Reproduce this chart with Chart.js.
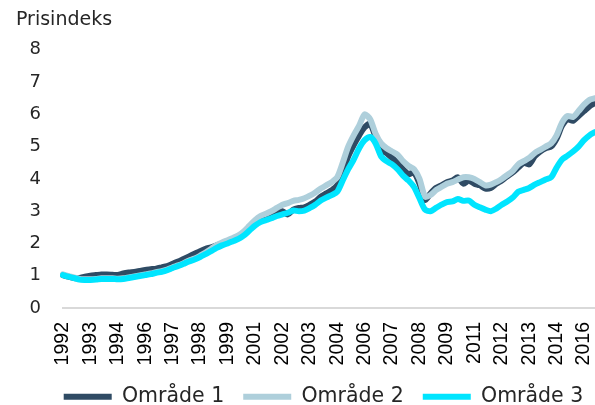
<!DOCTYPE html>
<html>
<head>
<meta charset="utf-8">
<script src="https://cdn.jsdelivr.net/npm/chart.js@4.4.1/dist/chart.umd.min.js"></script>
<style>
  html, body { margin: 0; padding: 0; background: #fff; }
  #wrap { width: 595px; height: 405px; }
</style>
</head>
<body>
<div id="wrap"><canvas id="c" width="595" height="405"></canvas></div>
<script>
// Quarterly observations, 1992 Q1 – 2016 Q2
const firstYear = 1992;
const nQuarters = 98;
const quarters = [];
for (let i = 0; i < nQuarters; i++) {
  quarters.push((firstYear + Math.floor(i / 4)) + 'K' + (i % 4 + 1));
}

// Tick labels shown every 5th quarter
const tickLabels = ['1992','1993','1994','1996','1997','1998','1999','2001','2002','2003',
                    '2004','2006','2007','2008','2009','2011','2012','2013','2014','2016'];
const tickEvery = 5;

const seriesNames = ['Område 1', 'Område 2', 'Område 3'];

const omrade1 = [
  1.02,0.97,0.93,0.93,0.97,1.00,1.02,1.04,1.04,1.03,
  1.02,1.07,1.10,1.12,1.15,1.18,1.20,1.22,1.26,1.30,
  1.37,1.44,1.52,1.60,1.68,1.76,1.83,1.88,1.94,1.98,
  2.05,2.12,2.20,2.32,2.48,2.62,2.74,2.80,2.88,2.95,
  3.00,2.90,3.05,3.10,3.12,3.20,3.30,3.45,3.55,3.65,
  3.80,4.20,4.70,5.05,5.35,5.60,5.70,5.30,4.90,4.80,
  4.65,4.50,4.30,4.15,4.20,3.85,3.35,3.55,3.72,3.80,
  3.90,3.95,4.05,3.85,3.95,3.85,3.80,3.70,3.72,3.85,
  3.95,4.08,4.20,4.35,4.50,4.45,4.70,4.85,4.95,5.00,
  5.25,5.65,5.85,5.80,5.95,6.10,6.25,6.35
];
const omrade2 = [
  1.04,0.99,0.95,0.90,0.89,0.89,0.90,0.92,0.92,0.92,
  0.91,0.92,0.95,0.98,1.01,1.04,1.07,1.11,1.14,1.19,
  1.26,1.32,1.39,1.47,1.53,1.62,1.72,1.83,1.95,2.03,
  2.10,2.17,2.25,2.38,2.55,2.72,2.85,2.92,3.00,3.10,
  3.20,3.25,3.32,3.35,3.40,3.48,3.58,3.70,3.80,3.90,
  4.05,4.50,5.00,5.35,5.65,6.00,5.85,5.40,5.10,4.95,
  4.85,4.75,4.55,4.40,4.30,4.00,3.45,3.50,3.65,3.75,
  3.85,3.90,3.98,4.05,4.05,4.00,3.90,3.80,3.82,3.90,
  4.00,4.12,4.25,4.45,4.55,4.65,4.80,4.90,5.00,5.10,
  5.35,5.75,5.95,5.92,6.10,6.30,6.45,6.50
];
const omrade3 = [
  1.02,0.97,0.93,0.88,0.87,0.87,0.88,0.90,0.90,0.90,
  0.89,0.90,0.93,0.96,0.99,1.02,1.05,1.09,1.12,1.17,
  1.24,1.30,1.37,1.44,1.50,1.58,1.67,1.76,1.86,1.94,
  2.00,2.07,2.14,2.25,2.40,2.55,2.66,2.72,2.78,2.85,
  2.90,2.95,3.02,3.00,3.02,3.10,3.20,3.33,3.42,3.50,
  3.60,3.95,4.30,4.60,4.95,5.20,5.30,5.10,4.70,4.55,
  4.45,4.30,4.10,3.95,3.75,3.40,3.05,3.00,3.10,3.20,
  3.28,3.30,3.38,3.32,3.33,3.20,3.12,3.05,3.00,3.08,
  3.20,3.30,3.42,3.60,3.66,3.72,3.82,3.90,3.98,4.05,
  4.35,4.60,4.72,4.85,5.00,5.20,5.35,5.45
];

const colors = ['#2f4b64', '#aecfdb', '#00e5ff'];
const yMin = 0, yMax = 8, yStep = 1;
const labelFont = 'DejaVu Sans';
const legendBoxHeight = 37.5;
const legendLeft = 32, legendRight = 615;

const mk = (i, data, order) => ({
  label: seriesNames[i],
  data: data,
  borderColor: colors[i],
  backgroundColor: colors[i],
  borderWidth: 6,
  borderCapStyle: 'round',
  borderJoinStyle: 'round',
  pointRadius: 0,
  pointHoverRadius: 0,
  tension: 0.25,
  fill: false,
  order: order
});

// compact legend vertically (wide horizontal gaps) and centre it under the plot
const legendLayoutPlugin = {
  id: 'legendLayout',
  beforeLayout(chart) {
    const lg = chart.legend;
    if (lg && !lg.__patched) {
      const orig = lg.fit;
      lg.fit = function () { orig.call(this); this.height = legendBoxHeight; };
      lg.__patched = true;
    }
  },
  afterLayout(chart) {
    const lg = chart.legend;
    if (lg) { lg.left = legendLeft; lg.right = legendRight; }
  }
};

new Chart(document.getElementById('c'), {
  type: 'line',
  data: {
    labels: quarters,
    datasets: [mk(0, omrade1, 3), mk(1, omrade2, 2), mk(2, omrade3, 1)]
  },
  plugins: [legendLayoutPlugin],
  options: {
    responsive: false,
    animation: false,
    layout: { padding: { left: 16, right: 0, top: 0, bottom: 0 } },
    plugins: {
      title: {
        display: true,
        text: 'Prisindeks',
        align: 'start',
        color: '#262626',
        font: { family: labelFont, size: 19, weight: 'normal', lineHeight: 1.2 },
        padding: { top: 9, bottom: 18 },
        fullSize: true
      },
      legend: {
        display: true,
        position: 'bottom',
        fullSize: true,
        labels: {
          usePointStyle: true,
          pointStyle: 'line',
          pointStyleWidth: 48,
          color: '#262626',
          font: { family: labelFont, size: 20.5 },
          padding: 19,
          sort: (a, b) => a.datasetIndex - b.datasetIndex
        }
      },
      tooltip: { enabled: false }
    },
    scales: {
      x: {
        type: 'category',
        offset: false,
        grid: { display: false, drawTicks: false },
        border: { display: true, color: '#d9d9d9', width: 2 },
        afterFit: (s) => { s.height = 59.5; s.paddingLeft = 0; s.paddingRight = 0; },
        ticks: {
          autoSkip: false,
          maxRotation: 90,
          minRotation: 90,
          padding: 14,
          color: '#000',
          font: { family: 'Liberation Sans', size: 19.5 },
          callback: function (val, idx) {
            return idx % tickEvery === 0 ? tickLabels[idx / tickEvery] : null;
          }
        }
      },
      y: {
        min: yMin,
        max: yMax,
        grid: { display: false, drawTicks: false },
        border: { display: false },
        afterFit: (s) => { s.width = 47; },
        ticks: {
          stepSize: yStep,
          padding: 22,
          color: '#262626',
          font: { family: labelFont, size: 18 }
        }
      }
    }
  }
});
</script>
</body>
</html>
